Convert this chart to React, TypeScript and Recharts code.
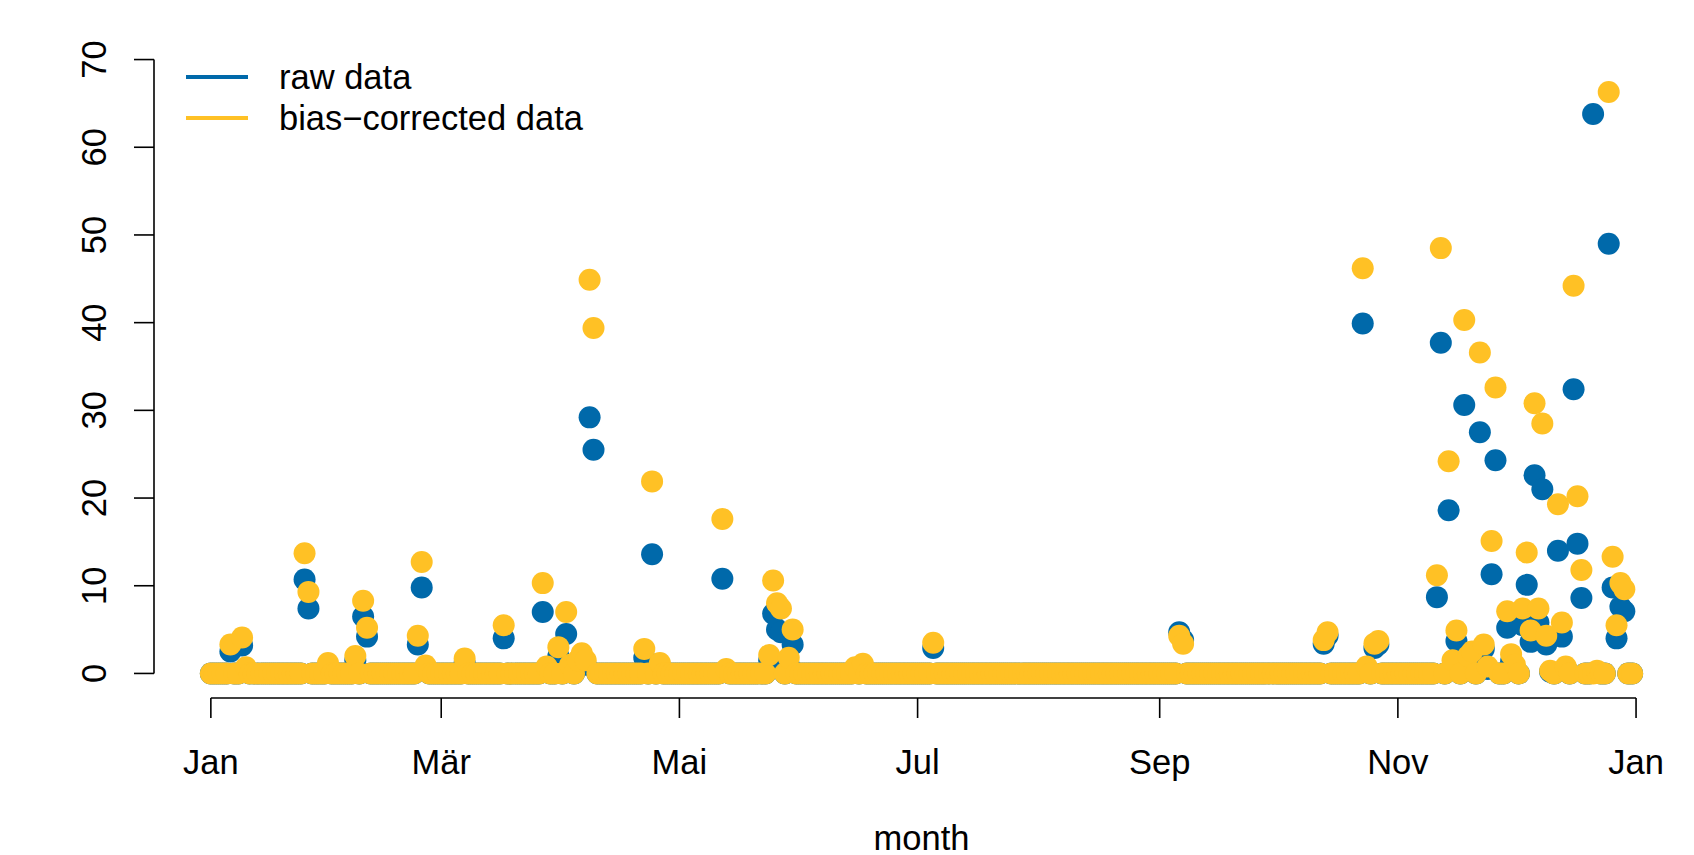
import React from "react";
import {
  Legend,
  ReferenceLine,
  Scatter,
  ScatterChart,
  XAxis,
  YAxis,
} from "recharts";

const FONT = '"Liberation Sans", Arial, Helvetica, sans-serif';
const FONT_SIZE = 34.5;
const RAW_COLOR = "#0069AA";
const CORR_COLOR = "#FFC125";

const seriesNames = ["raw data", "bias−corrected data"];

// day of year (0 = 1 Jan) of every day with precipitation above zero
const wetDays = [
  5, 8, 9, 24, 25, 30, 37, 39, 40, 53, 54, 55, 65, 75, 85, 86, 89, 91, 92, 94,
  95, 96, 97, 98, 111, 113, 115, 131, 132, 143, 144, 145, 146, 148, 149, 165,
  167, 185, 248, 249, 285, 286, 295, 296, 298, 299, 314, 315, 317, 318, 319,
  321, 322, 323, 325, 326, 327, 328, 329, 332, 333, 334, 336, 337, 338, 339,
  340, 341, 342, 343, 345, 346, 347, 349, 350, 351, 354, 355, 358, 359, 360,
  361, 362,
];

const rawValues = [
  2.5, 3.2, 0.4, 10.7, 7.4, 0.8, 1.5, 6.5, 4.2, 3.3, 9.8, 0.6, 1.2, 4.0, 7.0,
  0.5, 2.0, 4.5, 0.5, 0.8, 1.5, 1.0, 29.2, 25.5, 1.8, 13.6, 0.8, 10.8, 0.3, 1.5,
  6.8, 5.0, 4.7, 1.0, 3.3, 0.5, 0.8, 2.9, 4.7, 3.8, 3.4, 4.3, 39.9, 0.5, 2.9,
  3.3, 8.7, 37.7, 18.6, 0.5, 3.7, 30.6, 1.3, 1.8, 27.5, 2.8, 0.5, 11.3, 24.3,
  5.2, 1.4, 0.5, 5.5, 10.1, 3.6, 22.6, 5.8, 21.0, 3.3, 0.2, 14.0, 4.2, 0.5,
  32.4, 14.8, 8.6, 63.8, 0.2, 49.0, 9.8, 4.0, 7.6, 7.1,
];

const correctedValues = [
  3.3, 4.1, 0.7, 13.7, 9.3, 1.2, 2.0, 8.3, 5.2, 4.3, 12.7, 0.9, 1.7, 5.5, 10.3,
  0.8, 3.0, 7.0, 1.0, 1.5, 2.3, 1.5, 44.9, 39.4, 2.8, 21.9, 1.2, 17.6, 0.5, 2.1,
  10.6, 8.0, 7.4, 1.8, 5.0, 0.7, 1.1, 3.5, 4.3, 3.4, 3.8, 4.7, 46.2, 0.8, 3.4,
  3.7, 11.2, 48.5, 24.2, 1.5, 4.9, 40.3, 2.0, 2.5, 36.6, 3.3, 0.8, 15.1, 32.6,
  7.1, 2.2, 1.0, 7.4, 13.8, 4.9, 30.8, 7.4, 28.5, 4.3, 0.3, 19.3, 5.8, 0.8,
  44.2, 20.2, 11.8, 0.0, 0.3, 66.3, 13.3, 5.5, 10.3, 9.6,
];

const monthTicks = [0, 59, 120, 181, 243, 304, 365];
const monthLabels = ["Jan", "Mär", "Mai", "Jul", "Sep", "Nov", "Jan"];
const valueTicks = [0, 10, 20, 30, 40, 50, 60, 70];
const dayCount = 365;

function buildSeries(values: number[]) {
  const byDay = new Map<number, number>();
  wetDays.forEach((d, i) => byDay.set(d, values[i]));
  return Array.from({ length: dayCount }, (_, day) => ({
    day,
    value: byDay.get(day) ?? 0,
  }));
}

const rawSeries = buildSeries(rawValues);
const correctedSeries = buildSeries(correctedValues);

const dot = (color: string) => (props: any) =>
  <circle cx={props.cx} cy={props.cy} r={11} fill={color} />;

function MonthTick({ x, y, payload }: any) {
  const idx = monthTicks.indexOf(payload.value);
  return (
    <text x={x} y={y + 48} textAnchor="middle" fontSize={FONT_SIZE} fontFamily={FONT} fill="#000">
      {monthLabels[idx]}
    </text>
  );
}

function ValueTick({ x, y, payload }: any) {
  return (
    <text
      x={x}
      y={y}
      transform={`rotate(-90 ${x} ${y})`}
      textAnchor="middle"
      fontSize={FONT_SIZE}
      fontFamily={FONT}
      fill="#000"
    >
      {payload.value}
    </text>
  );
}

function LegendBox({ payload }: any) {
  const entries = [...(payload ?? [])].sort(
    (a: any, b: any) => seriesNames.indexOf(a.value) - seriesNames.indexOf(b.value)
  );
  return (
    <div style={{ position: "relative", height: 0, fontFamily: FONT }}>
      {entries.map((entry: any, i: number) => (
        <div
          key={entry.value}
          style={{
            position: "absolute",
            left: 186,
            top: 57 + i * 41,
            height: 40,
            display: "flex",
            alignItems: "center",
            whiteSpace: "nowrap",
          }}
        >
          <div style={{ width: 62, height: 4, background: entry.color }} />
          <span style={{ marginLeft: 31, fontSize: FONT_SIZE, color: "#000" }}>
            {entry.value}
          </span>
        </div>
      ))}
    </div>
  );
}

export default function App() {
  return (
    <div style={{ position: "absolute", left: 0, top: 0, background: "#fff" }}>
      <ScatterChart
        width={1694}
        height={855}
        margin={{ top: 35, right: 5, bottom: 57, left: 0 }}
      >
        <XAxis
          type="number"
          dataKey="day"
          domain={[-14.56, 378.56]}
          allowDataOverflow
          ticks={monthTicks}
          interval={0}
          height={100}
          axisLine={false}
          tickLine={{ stroke: "#000", strokeWidth: 1.6 }}
          tickSize={20}
          tickMargin={8}
          tick={<MonthTick />}
          label={{
            value: "month",
            content: (p: any) => (
              <text
                x={p.viewBox.x + p.viewBox.width / 2}
                y={p.viewBox.y + 152}
                textAnchor="middle"
                fontSize={FONT_SIZE}
                fontFamily={FONT}
                fill="#000"
              >
                month
              </text>
            ),
          }}
        />
        <YAxis
          type="number"
          dataKey="value"
          domain={[-2.8, 72.8]}
          allowDataOverflow
          ticks={valueTicks}
          interval={0}
          width={154}
          axisLine={false}
          tickLine={{ stroke: "#000", strokeWidth: 1.6 }}
          tickSize={20}
          tickMargin={28}
          tick={<ValueTick />}
        />
        <ReferenceLine
          segment={[{ x: 0, y: -2.8 }, { x: 365, y: -2.8 }]}
          stroke="#000"
          strokeWidth={1.6}
          ifOverflow="visible"
        />
        <ReferenceLine
          segment={[{ x: -14.56, y: 0 }, { x: -14.56, y: 70 }]}
          stroke="#000"
          strokeWidth={1.6}
          ifOverflow="visible"
        />
        <Legend
          verticalAlign="top"
          align="left"
          content={<LegendBox />}
          wrapperStyle={{ top: 0, left: 0, width: 1694, height: 0 }}
        />
        <Scatter
          name={seriesNames[0]}
          data={rawSeries}
          fill={RAW_COLOR}
          shape={dot(RAW_COLOR)}
          isAnimationActive={false}
        />
        <Scatter
          name={seriesNames[1]}
          data={correctedSeries}
          fill={CORR_COLOR}
          shape={dot(CORR_COLOR)}
          isAnimationActive={false}
        />
      </ScatterChart>
    </div>
  );
}
